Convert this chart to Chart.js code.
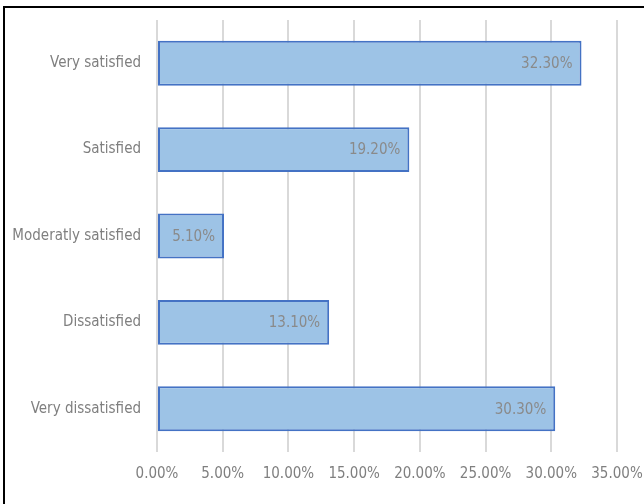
<!DOCTYPE html>
<html>
<head>
<meta charset="utf-8">
<script src="https://cdn.jsdelivr.net/npm/chart.js@4"></script>
<style>
  html, body { margin: 0; padding: 0; background: #fff; overflow: hidden; }
  #frame {
    position: absolute; left: 3px; top: 6px;
    width: 700px; height: 600px;
    border: 2px solid #000; box-sizing: border-box;
  }
  #wrap { position: absolute; left: 0; top: 0; width: 644px; height: 504px; }
</style>
</head>
<body>
<div id="frame"></div>
<div id="wrap"><canvas id="satisfactionChart" width="644" height="504"></canvas></div>
<script>
const categories = [
  "Very satisfied",
  "Satisfied",
  "Moderatly satisfied",
  "Dissatisfied",
  "Very dissatisfied",
];
const shares = [32.3, 19.2, 5.1, 13.1, 30.3];
const axisMax = 35;
const axisStep = 5;

const labelFont = { family: "'Liberation Sans Narrow', 'DejaVu Sans Condensed', sans-serif", size: 15 };
const textColor = "#7f7f7f";

// value labels drawn inside the end of each bar
const valueLabels = {
  id: "valueLabels",
  afterDatasetsDraw(chart) {
    const ctx = chart.ctx;
    const meta = chart.getDatasetMeta(0);
    ctx.save();
    ctx.font = labelFont.size + "px " + labelFont.family;
    ctx.fillStyle = "#8a8a8a";
    ctx.textAlign = "right";
    ctx.textBaseline = "middle";
    meta.data.forEach((bar, i) => {
      ctx.fillText(shares[i].toFixed(2) + "%", bar.x - 9, bar.y + 1);
    });
    ctx.restore();
  },
};

new Chart(document.getElementById("satisfactionChart").getContext("2d"), {
  type: "bar",
  data: {
    labels: categories,
    datasets: [
      {
        data: shares,
        backgroundColor: "#9dc3e6",
        borderColor: "#4472c4",
        borderWidth: 2,
        borderSkipped: false,
        categoryPercentage: 1,
        barPercentage: 0.52,
      },
    ],
  },
  options: {
    indexAxis: "y",
    responsive: false,
    animation: false,
    layout: { padding: { top: 20, right: 27, bottom: 0, left: 0 } },
    plugins: { legend: { display: false }, tooltip: { enabled: false } },
    scales: {
      x: {
        min: 0,
        max: axisMax,
        border: { display: false },
        grid: { color: "#d9d9d9", lineWidth: 2, drawTicks: false },
        ticks: {
          stepSize: axisStep,
          padding: 13,
          color: textColor,
          font: labelFont,
          callback: (v) => v.toFixed(2) + "%",
        },
        afterFit: (scale) => {
          scale.height = 52;
          scale.paddingLeft = 0;
          scale.paddingRight = 0;
        },
      },
      y: {
        border: { display: false },
        grid: { display: false, drawTicks: false },
        ticks: { padding: 16, color: textColor, font: labelFont },
        afterFit: (scale) => {
          scale.width = 157;
          scale.paddingTop = 0;
          scale.paddingBottom = 0;
        },
      },
    },
  },
  plugins: [valueLabels],
});
</script>
</body>
</html>
